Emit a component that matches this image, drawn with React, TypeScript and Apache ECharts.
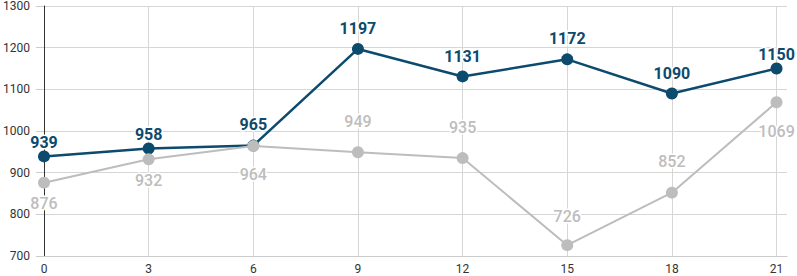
import React, { useEffect, useRef } from "react";
import * as echarts from "echarts";

const xValues = [0, 3, 6, 9, 12, 15, 18, 21];
const blueValues = [939, 958, 965, 1197, 1131, 1172, 1090, 1150];
const grayValues = [876, 932, 964, 949, 935, 726, 852, 1069];

// label styling (not data)
const grayLabelPos = ["bottom", "bottom", "bottom", "top", "top", "top", "top", "bottom"];
const grayLabelDist = [7, 7, 14, 17, 17, 15, 17, 15];
const blueLabelDist = [0, 0, 7, 6, 6, 7, 6, 0];

const BLUE = "#0c4a6e";
const GRAY = "#bdbdbd";

export default function App() {
  const ref = useRef<HTMLDivElement>(null);
  useEffect(() => {
    if (!ref.current) return;
    const chart = echarts.init(ref.current, undefined, { renderer: "svg" });
    chart.setOption({
      animation: false,
      textStyle: { fontFamily: "Roboto" },
      grid: { left: 44, right: 10, top: 5, bottom: 20, containLabel: false },
      xAxis: {
        type: "value",
        min: 0,
        max: 21.3,
        interval: 3,
        axisLine: { show: true, lineStyle: { color: "#cccccc", width: 1 } },
        axisTick: { show: false },
        axisLabel: {
          color: "#333",
          fontSize: 12,
          margin: 7,
          showMaxLabel: false,
          formatter: (v: number) => (v % 3 === 0 ? String(v) : ""),
        },
        splitLine: { show: true, showMaxLine: false, lineStyle: { color: "#d6d6d6", width: 1 } },
      },
      yAxis: {
        type: "value",
        min: 700,
        max: 1300,
        interval: 100,
        axisLine: { show: true, lineStyle: { color: "#333", width: 1 } },
        axisTick: { show: true, length: 8, lineStyle: { color: "#cccccc" } },
        axisLabel: { color: "#333", fontSize: 12, margin: 14, formatter: (v: number) => String(v) },
        splitLine: { show: true, lineStyle: { color: "#d6d6d6", width: 1 } },
      },
      series: [
        {
          type: "line",
          data: xValues.map((x, i) => [x, blueValues[i]]),
          symbol: "circle",
          symbolSize: 12,
          z: 2,
          lineStyle: { color: BLUE, width: 2.5 },
          itemStyle: { color: BLUE },
          label: { show: false },
        },
        {
          type: "line",
          data: xValues.map((x, i) => ({
            value: [x, grayValues[i]],
            label: { position: grayLabelPos[i], distance: grayLabelDist[i] },
          })),
          symbol: "circle",
          symbolSize: 12,
          z: 3,
          lineStyle: { color: GRAY, width: 2 },
          itemStyle: { color: GRAY },
          label: {
            show: true,
            color: GRAY,
            fontSize: 16,
            fontWeight: 500,
            textBorderColor: "#ffffff",
            textBorderWidth: 3,
            formatter: (p: any) => String(p.value[1]),
          },
          labelLayout: { hideOverlap: false },
        },
        {
          type: "line",
          data: xValues.map((x, i) => ({
            value: [x, blueValues[i]],
            label: { distance: blueLabelDist[i] },
          })),
          symbol: "circle",
          symbolSize: 12,
          z: 4,
          silent: true,
          lineStyle: { width: 0, color: "rgba(0,0,0,0)" },
          itemStyle: { color: "rgba(0,0,0,0)" },
          label: {
            show: true,
            position: "top",
            color: BLUE,
            fontSize: 16,
            fontWeight: "bold",
            textBorderColor: "#ffffff",
            textBorderWidth: 3,
            formatter: (p: any) => String(p.value[1]),
          },
          labelLayout: { hideOverlap: false },
        },
      ],
    });
    return () => chart.dispose();
  }, []);
  return (
    <div
      ref={ref}
      style={{ position: "absolute", left: 0, top: 0, width: 797, height: 276 }}
    />
  );
}
